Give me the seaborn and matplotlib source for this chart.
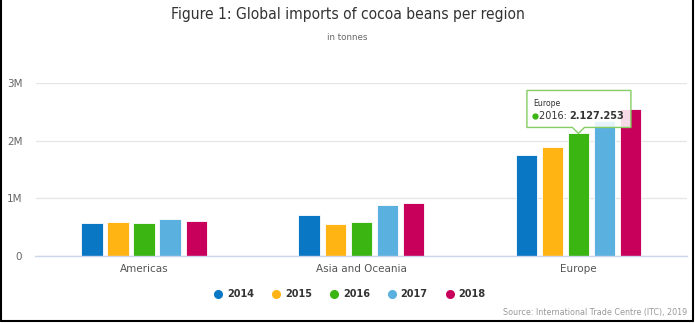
import matplotlib
matplotlib.use("Agg")
import matplotlib.pyplot as plt
import seaborn as sns
import pandas as pd
from matplotlib.lines import Line2D
from matplotlib.patches import Polygon

# Imports of cocoa beans per region and year, in tonnes
regions = ["Americas", "Asia and Oceania", "Europe"]
years = ["2014", "2015", "2016", "2017", "2018"]
americas = [565000, 583000, 565000, 635000, 606000]
asia_oceania = [710000, 553000, 583000, 885000, 914000]
europe = [1752000, 1897000, 2127253, 2340000, 2560000]
year_colors = ["#0a77c4", "#ffb414", "#3ab512", "#5ab0de", "#c9005b"]
y_ticks = [0, 1_000_000, 2_000_000, 3_000_000]
y_tick_labels = ["0", "1M", "2M", "3M"]

rows = []
for region, values in zip(regions, [americas, asia_oceania, europe]):
    for year, v in zip(years, values):
        rows.append({"region": region, "year": year, "tonnes": v})
df = pd.DataFrame(rows)

sns.set_theme(style="white")
plt.rcParams["font.family"] = ["DejaVu Sans"]

W, H = 695, 323
fig = plt.figure(figsize=(W / 100, H / 100), dpi=100)
fig.patch.set_facecolor("white")


def fx(px):
    return px / W


def fy(py):
    return 1 - py / H


ax = fig.add_axes([fx(35.5), fy(255.7), fx(687 - 35.5), (255.7 - 83.3) / H])
sns.barplot(data=df, x="region", y="tonnes", hue="year", order=regions,
            hue_order=years, palette=year_colors, width=0.6, gap=0.18,
            edgecolor="white", linewidth=0.6, saturation=1, legend=False,
            ax=ax)

ax.set_xlim(-0.5, 2.5)
ax.set_ylim(0, 3_000_000)
ax.set_yticks(y_ticks)
ax.set_yticklabels(y_tick_labels)
ax.yaxis.grid(True, color="#e6e6e6", lw=1)
ax.set_axisbelow(True)
ax.set_xlabel("")
ax.set_ylabel("")
for side in ["top", "right", "left"]:
    ax.spines[side].set_visible(False)
ax.spines["bottom"].set_color("#ccd6eb")
ax.spines["bottom"].set_linewidth(1)
ax.tick_params(axis="y", length=0, pad=9.5, labelsize=7.5, labelcolor="#666666")
ax.tick_params(axis="x", length=0, pad=6, labelsize=7.5, labelcolor="#555555")

# Title and subtitle
fig.text(0.5, fy(14), "Figure 1: Global imports of cocoa beans per region",
         ha="center", va="center", fontsize=11.2, color="#333333",
         fontstretch="condensed")
fig.text(0.5, fy(37.5), "in tonnes", ha="center", va="center",
         fontsize=6.3, color="#666666")

# Legend with round markers
handles = [Line2D([], [], marker="o", ls="", color=c, markersize=5.5)
           for c in year_colors]
fig.legend(handles, years, loc="center", bbox_to_anchor=(fx(350), fy(294.3)),
           ncol=5, frameon=False, handlelength=0.75, handletextpad=0.55,
           columnspacing=1.88, prop={"weight": "bold", "size": 7},
           labelcolor="#333333")

fig.text(fx(687.3), fy(312.3), "Source: International Trade Centre (ITC), 2019",
         ha="right", va="center", fontsize=5.8, color="#999999")

# Frame on left, right and bottom
for xs, ys in [((fx(1), fx(1)), (fy(320.5), 1)),
               ((fx(692.5), fx(692.5)), (fy(320.5), 1)),
               ((fx(1), fx(692.5)), (fy(320.5), fy(320.5)))]:
    fig.add_artist(Line2D(xs, ys, color="black", lw=1.5))

# Tooltip pointing at the Europe 2016 bar
fig.canvas.draw()
bar = min(ax.patches, key=lambda p: abs(p.get_height() - europe[2]))
tip_x, tip_y = ax.transData.transform((bar.get_x() + bar.get_width() / 2,
                                        bar.get_height()))
tip_y = H - tip_y  # top-based pixels
offsets = [(-51.5, -6), (-6, -6), (0, 0), (6, -6), (52.5, -6),
           (52.5, -43), (-51.5, -43)]
verts = [(fx(tip_x + dx), fy(tip_y + dy)) for dx, dy in offsets]
fig.add_artist(Polygon(verts, closed=True, facecolor=(1, 1, 1, 0.86),
                       edgecolor="#84cc63", lw=1, transform=fig.transFigure,
                       zorder=5))
fig.text(fx(tip_x - 45.5), fy(tip_y - 30), regions[2], ha="left", va="center",
         fontsize=5.6, color="#333333", zorder=6)
fig.add_artist(Line2D([fx(tip_x - 43.2)], [fy(tip_y - 17.3)], marker="o",
                      ls="", color=year_colors[2], markersize=3.5, zorder=6))
t1 = fig.text(fx(tip_x - 39.8), fy(tip_y - 17.3), f"{years[2]}: ",
              ha="left", va="center", fontsize=7, color="#333333", zorder=6)
fig.canvas.draw()
ext = t1.get_window_extent()
value_text = f"{europe[2]:,}".replace(",", ".")
fig.text(ext.x1 / W, fy(tip_y - 17.3), value_text, ha="left", va="center",
         fontsize=7, fontweight="bold", color="#333333", zorder=6)

fig.savefig("out.png", dpi=100, facecolor="white")
